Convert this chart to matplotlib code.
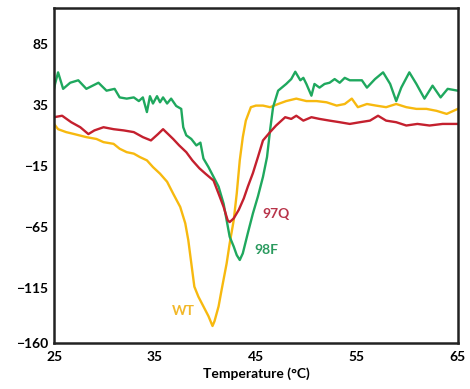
import numpy as np
import matplotlib
matplotlib.use("Agg")
import matplotlib.pyplot as plt

plt.rcParams['font.family'] = ['Lato', 'DejaVu Sans']
plt.rcParams['font.weight'] = 'bold'

# 98F (green)
t_98f = [25.0, 25.1, 25.4, 25.9, 26.6, 27.4, 28.2, 29.4, 30.2, 31.0, 31.5, 32.2, 32.9,
         33.4, 33.8, 34.2, 34.5, 34.8, 35.2, 35.5, 35.8, 36.2, 36.6, 37.1, 37.6, 37.8,
         38.1, 38.6, 39.1, 39.5, 39.8, 40.3, 40.8, 41.3, 41.8, 42.1, 42.4, 42.8, 43.1,
         43.4, 43.7, 44.2, 44.7, 45.2, 45.7, 46.1, 46.4, 46.7, 47.2, 48.0, 48.5, 48.9,
         49.4, 49.7, 50.0, 50.5, 50.8, 51.3, 51.8, 52.3, 52.8, 53.3, 53.8, 54.3, 54.8,
         55.5, 56.0, 56.8, 57.6, 58.3, 58.9, 59.4, 60.2, 60.9, 61.7, 62.5, 63.3, 64.0,
         65.0]
v_98f = [48, 52, 61.5, 48, 53, 55, 48, 53, 46.5, 48, 41, 40, 41,
         38, 41, 29, 42, 36, 42, 37, 41, 36, 40, 34, 31.6, 16.6,
         10, 7, 1.7, 4, -9, -16, -24, -32, -46, -59.5, -73, -81, -88,
         -92, -86.6, -70, -54, -40, -24, -7.8, 14, 33, 46.5, 52, 56, 62,
         55, 57, 52, 42.4, 52, 49, 52, 53, 56, 53, 57, 55, 55,
         55, 49, 56, 61.5, 52, 38, 49, 61.5, 52, 40, 50.6, 41, 48,
         46.5]

# 97Q (red)
t_97q = [25.0, 25.8, 26.7, 27.6, 28.4, 29.0, 29.9, 30.9, 31.9, 32.9, 33.8, 34.6, 35.3,
         35.8, 36.3, 36.8, 37.4, 38.1, 38.7, 39.4, 40.0, 40.8, 41.3, 41.8, 42.2, 42.4,
         42.8, 43.3, 43.8, 44.2, 44.7, 45.2, 45.7, 46.4, 47.0, 47.9, 48.5, 49.0, 49.7,
         50.5, 51.3, 52.3, 53.3, 54.3, 55.3, 56.3, 57.1, 57.9, 58.9, 59.9, 61.0, 62.2,
         63.5, 65.0]
v_97q = [24.8, 26, 20.7, 16.6, 11, 14, 16.6, 15, 14, 12.6, 8.5, 5.8, 11,
         15, 11, 7, 1.7, -3.8, -10.5, -17, -21.4, -27, -37.7, -48.6, -59.5, -61,
         -58, -51, -41.6, -32, -21, -7.8, 5.8, 12.6, 18, 24.8, 23.4, 26, 22,
         24.8, 23.4, 22, 20.7, 19.3, 20.7, 22, 26, 22, 20.7, 18, 19.3, 18,
         19.3, 19.3]

# WT (yellow)
t_wt = [25.0, 25.4, 26.2, 27.0, 28.2, 29.2, 29.9, 30.9, 31.5, 32.2, 32.9, 33.5, 34.2,
        34.8, 35.5, 36.2, 36.8, 37.5, 38.0, 38.3, 38.6, 38.9, 39.3, 39.8, 40.3, 40.7,
        40.9, 41.3, 41.6, 42.1, 42.4, 42.8, 43.1, 43.4, 43.7, 44.0, 44.5, 45.0, 45.7,
        46.4, 47.2, 48.0, 49.0, 50.0, 51.0, 52.0, 53.0, 53.8, 54.5, 55.1, 56.0, 56.9,
        57.9, 58.9, 59.9, 60.9, 61.9, 62.9, 63.9, 65.0]
v_wt = [19.3, 15, 12.6, 11, 8.5, 7, 4.4, 3, -1, -3.8, -5, -7.8, -10.5,
        -16, -21.4, -28, -37.7, -48.6, -62, -75.8, -94.8, -113.8, -122, -130, -138, -146,
        -142, -130, -116.5, -94.8, -78.5, -59.5, -37.7, -10.5, 8.5, 22, 33, 34.3, 34.3,
        33, 35.6, 38, 40, 38, 38, 37, 34.3, 35.6, 40, 33, 35.6, 34.3,
        33, 35.6, 33, 31.6, 31.6, 30, 27.5, 31.6]

c_green = "#1fa85e"
c_red = "#c4202e"
c_yellow = "#f7b90f"

fig = plt.figure(figsize=(4.7, 3.89), dpi=100)
ax = fig.add_axes([0.115, 0.118, 0.859, 0.861])

ax.plot(t_wt, v_wt, color=c_yellow, lw=1.7)
ax.plot(t_98f, v_98f, color=c_green, lw=1.7)
ax.plot(t_97q, v_97q, color=c_red, lw=1.7)

ax.text(47.0, -54, "97Q", color="#b8344a", fontsize=10, fontweight="bold", ha="center", va="center")
ax.text(46.05, -84, "98F", color="#2a9a5e", fontsize=10, fontweight="bold", ha="center", va="center")
ax.text(37.8, -134, "WT", color="#f2b82a", fontsize=10, fontweight="bold", ha="center", va="center")

ax.set_xlim(25, 65)
ax.set_ylim(-160, 114)
ax.set_xticks([25, 35, 45, 55, 65])
ax.set_yticks([85, 35, -15, -65, -115, -160])
ax.tick_params(length=0, labelsize=10)
ax.tick_params(axis='x', pad=6)
ax.tick_params(axis='y', pad=4)
for lab in ax.get_xticklabels() + ax.get_yticklabels():
    lab.set_fontweight("bold")
ax.set_xlabel("Temperature (°C)", fontsize=10, fontweight="bold", labelpad=3)
for s in ax.spines.values():
    s.set_linewidth(1.8)
    s.set_color("#222222")

fig.savefig("out.png", dpi=100)
